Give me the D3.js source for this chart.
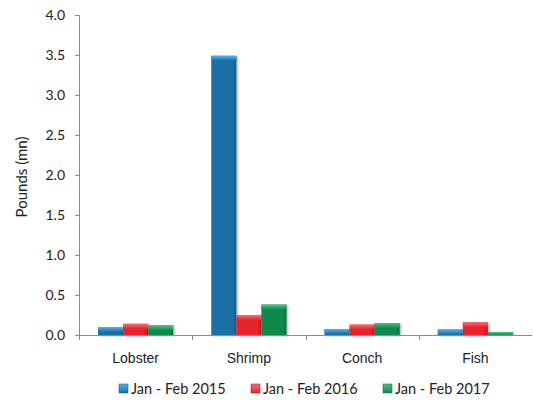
<!DOCTYPE html>
<html>
<head>
<meta charset="utf-8">
<script src="https://cdn.jsdelivr.net/npm/d3@7"></script>
<style>
  html, body { margin: 0; padding: 0; background: #fff; }
  svg { display: block; font-family: Lato, "Open Sans", "Liberation Sans", sans-serif; }
</style>
</head>
<body>
<svg id="chart" width="533" height="400"></svg>
<script>
// Catch by species, January-February of each year (millions of pounds)
const categories = ["Lobster", "Shrimp", "Conch", "Fish"];
const seriesNames = ["Jan - Feb 2015", "Jan - Feb 2016", "Jan - Feb 2017"];
const values2015 = [0.10, 3.49, 0.075, 0.07];
const values2016 = [0.14, 0.25, 0.13, 0.16];
const values2017 = [0.12, 0.38, 0.15, 0.035];
const yTicks = [0, 0.5, 1.0, 1.5, 2.0, 2.5, 3.0, 3.5, 4.0];

const seriesValues = [values2015, values2016, values2017];
const colors = [
  { base: "#1a6fa6", light: "#4db4e8", dark: "#135a88" },
  { base: "#e8202a", light: "#f5707a", dark: "#b8141c" },
  { base: "#0e8a4c", light: "#4cc184", dark: "#0a6b3a" }
];

const svg = d3.select("#chart");
const plotLeft = 79, plotRight = 532;

const x = d3.scaleBand().domain(categories).range([plotLeft, plotRight]).paddingInner(0).paddingOuter(0);
const x1 = d3.scaleBand().domain(d3.range(seriesNames.length)).range([0, x.bandwidth()]).paddingOuter(0.76).paddingInner(0);
const y = d3.scaleLinear().domain([0, 4]).range([335, 15]);

// gradients for the bevelled bars
const defs = svg.append("defs");
colors.forEach((c, i) => {
  const g = defs.append("linearGradient").attr("id", "grad" + i)
    .attr("x1", 0).attr("y1", 0).attr("x2", 0).attr("y2", 1);
  g.append("stop").attr("offset", 0).attr("stop-color", c.light);
  g.append("stop").attr("offset", 1).attr("stop-color", c.base);
  const h = defs.append("linearGradient").attr("id", "side" + i)
    .attr("x1", 0).attr("y1", 0).attr("x2", 1).attr("y2", 0);
  h.append("stop").attr("offset", 0).attr("stop-color", c.base);
  h.append("stop").attr("offset", 0.85).attr("stop-color", c.base);
  h.append("stop").attr("offset", 1).attr("stop-color", c.dark);
});
const shadow = defs.append("filter").attr("id", "shadow").attr("x", "-20%").attr("y", "-20%").attr("width", "140%").attr("height", "140%");
shadow.append("feDropShadow").attr("dx", 1.5).attr("dy", 1).attr("stdDeviation", 1).attr("flood-color", "#000").attr("flood-opacity", 0.3);

// y axis
const yAxis = d3.axisLeft(y).tickValues(yTicks).tickFormat(d3.format(".1f")).tickSize(4).tickPadding(10);
const gy = svg.append("g").attr("transform", `translate(${plotLeft},0)`).call(yAxis);
gy.select(".domain").attr("stroke", "#8c8c8c").attr("d", `M-4,15.5H0.5V335.5`);
gy.selectAll(".tick line").attr("stroke", "#8c8c8c");
gy.selectAll(".tick text").attr("font-size", 14).attr("fill", "#222").attr("font-family", "Lato, 'Open Sans', sans-serif");

svg.append("text")
  .attr("transform", "translate(22,177) rotate(-90)")
  .attr("text-anchor", "middle")
  .attr("dy", "0.35em")
  .attr("font-size", 15)
  .attr("fill", "#222")
  .text("Pounds (mn)");

// bars
const groups = svg.append("g").selectAll("g").data(categories).join("g")
  .attr("transform", d => `translate(${x(d)},0)`);

seriesValues.forEach((vals, si) => {
  const bars = groups.append("g").datum((d, i) => vals[i]);
  bars.append("rect")
    .attr("x", x1(si))
    .attr("y", v => y(v))
    .attr("width", x1.bandwidth())
    .attr("height", v => y(0) - y(v))
    .attr("fill", `url(#side${si})`)
    .attr("filter", "url(#shadow)");
  bars.append("rect")
    .attr("x", x1(si))
    .attr("y", v => y(v))
    .attr("width", x1.bandwidth())
    .attr("height", v => Math.min(5, y(0) - y(v)))
    .attr("fill", `url(#grad${si})`);
});

// x axis
const xAxis = d3.axisBottom(x).tickSize(0).tickPadding(0);
const gx = svg.append("g").attr("transform", `translate(0,335)`).call(xAxis);
gx.select(".domain").attr("stroke", "#8c8c8c").attr("d", `M${plotLeft},0.5H${plotRight}`);
gx.selectAll(".tick text").attr("dy", null).attr("y", 28).attr("font-size", 14).attr("fill", "#222");
svg.append("g").selectAll("line").data(categories).join("line")
  .attr("x1", d => Math.round(x(d)) + 0.5).attr("x2", d => Math.round(x(d)) + 0.5)
  .attr("y1", 335).attr("y2", 340)
  .attr("stroke", "#8c8c8c");

// legend
const legendX = [119, 251, 383];
const legend = svg.append("g").selectAll("g").data(seriesNames).join("g")
  .attr("transform", (d, i) => `translate(${legendX[i]},384)`);
legend.append("rect").attr("width", 9).attr("height", 9)
  .attr("fill", (d, i) => `url(#grad${i})`)
  .attr("stroke", (d, i) => colors[i].dark).attr("stroke-width", 0.5);
legend.append("text").attr("x", 12).attr("y", 9.5).attr("font-size", 14.5).attr("fill", "#222").text(d => d);
</script>
</body>
</html>
